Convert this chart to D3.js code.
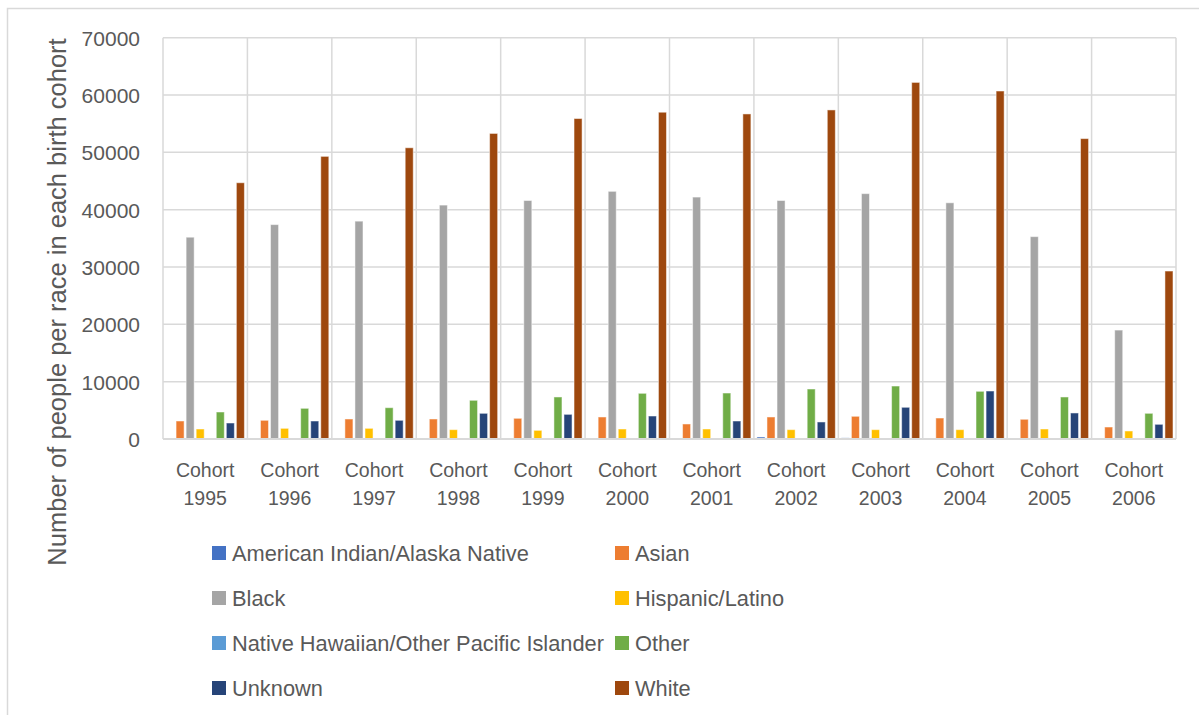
<!DOCTYPE html>
<html><head><meta charset="utf-8">
<script src="https://cdn.jsdelivr.net/npm/d3@7"></script>
<style>body{margin:0;background:#fff}svg{display:block}text{font-family:"Liberation Sans",Arial,sans-serif;fill:#595959}</style>
</head><body><svg id="c" width="1199" height="715"></svg>
<script>
const cohorts = ["1995","1996","1997","1998","1999","2000","2001","2002","2003","2004","2005","2006"];
const seriesNames = ["American Indian/Alaska Native","Asian","Black","Hispanic/Latino","Native Hawaiian/Other Pacific Islander","Other","Unknown","White"];
const seriesColors = ["#4472C4","#ED7D31","#A5A5A5","#FFC000","#5B9BD5","#70AD47","#264478","#9E480E"];
const americanIndian = [150,150,150,150,150,150,150,350,200,150,150,150];
const asian = [3140,3260,3490,3490,3610,3840,2620,3840,3960,3660,3440,2090];
const black = [35200,37400,38000,40800,41600,43200,42200,41600,42800,41200,35300,19000];
const hispanic = [1745,1860,1860,1630,1510,1745,1745,1630,1630,1630,1745,1400];
const nativeHawaiian = [40,40,40,40,40,40,40,40,40,40,40,40];
const other = [4710,5350,5460,6750,7330,7970,8020,8720,9240,8320,7330,4480];
const unknown = [2790,3140,3260,4480,4300,4010,3140,2970,5530,8370,4540,2560];
const white = [44700,49300,50800,53300,55900,57000,56700,57400,62200,60700,52400,29300];
const yTicks = [0,10000,20000,30000,40000,50000,60000,70000];
const seriesValues = [americanIndian,asian,black,hispanic,nativeHawaiian,other,unknown,white];

const svg = d3.select("#c");
const L=163,R=1176,T=37.7,B=439;
const grid="#d9d9d9";
svg.append("rect").attr("x",7.5).attr("y",8.5).attr("width",1200).attr("height",720).attr("fill","none").attr("stroke",grid).attr("stroke-width",1.5);

const x0 = d3.scaleBand().domain(cohorts).range([L,R]).paddingInner(0).paddingOuter(0);
const x1 = d3.scaleBand().domain(seriesNames).range([0,x0.bandwidth()]).paddingInner(0.2).paddingOuter(0.3);
const y = d3.scaleLinear().domain([0,70000]).range([B,T]);

svg.append("g").selectAll("line").data(yTicks).join("line")
  .attr("x1",L).attr("x2",R).attr("y1",d=>y(d)).attr("y2",d=>y(d))
  .attr("stroke",grid).attr("stroke-width",1.5);
const bounds = cohorts.map(c=>x0(c)).concat([R]);
svg.append("g").selectAll("line").data(bounds).join("line")
  .attr("x1",d=>d).attr("x2",d=>d).attr("y1",T).attr("y2",B)
  .attr("stroke",grid).attr("stroke-width",1.5);

const yAxis = d3.axisLeft(y).tickValues(yTicks).tickSize(0).tickPadding(0).tickFormat(d3.format("d"));
const ga = svg.append("g").attr("transform",`translate(140,0)`).call(yAxis);
ga.select(".domain").remove();
ga.selectAll("text").attr("font-size",21).attr("fill","#595959").attr("font-family","Liberation Sans, Arial, sans-serif").attr("dy","0.35em");

const groups = svg.append("g").selectAll("g").data(cohorts).join("g")
  .attr("transform",c=>`translate(${x0(c)},0)`);
groups.selectAll("rect").data((c,i)=>seriesNames.map((s,j)=>({s,j,v:seriesValues[j][i]}))).join("rect")
  .attr("x",d=>x1(d.s)).attr("width",x1.bandwidth())
  .attr("y",d=>y(d.v)).attr("height",d=>B-y(d.v))
  .attr("fill",d=>seriesColors[d.j])
  .attr("stroke","#fff").attr("stroke-opacity",0.5).attr("stroke-width",1);

svg.append("line").attr("x1",L).attr("x2",R).attr("y1",B).attr("y2",B).attr("stroke",grid).attr("stroke-width",2);

const xl = svg.append("g").selectAll("text").data(cohorts).join("text")
  .attr("x",c=>x0(c)+x0.bandwidth()/2).attr("text-anchor","middle").attr("font-size",19.5);
xl.append("tspan").attr("x",c=>x0(c)+x0.bandwidth()/2).attr("y",477).text("Cohort");
xl.append("tspan").attr("x",c=>x0(c)+x0.bandwidth()/2).attr("y",505).text(c=>c);

svg.append("text").attr("transform","translate(66,302) rotate(-90)").attr("text-anchor","middle")
  .attr("font-size",25.5).text("Number of people per race in each birth cohort");

const lg = svg.append("g").selectAll("g").data(seriesNames).join("g")
  .attr("transform",(d,i)=>`translate(${i%2===0?212:615},${553+Math.floor(i/2)*45})`);
lg.append("rect").attr("x",0).attr("y",-7).attr("width",14).attr("height",14).attr("fill",(d,i)=>seriesColors[i]);
lg.append("text").attr("x",20).attr("y",0).attr("dy","0.35em").attr("font-size",21.8).text(d=>d);
</script></body></html>
